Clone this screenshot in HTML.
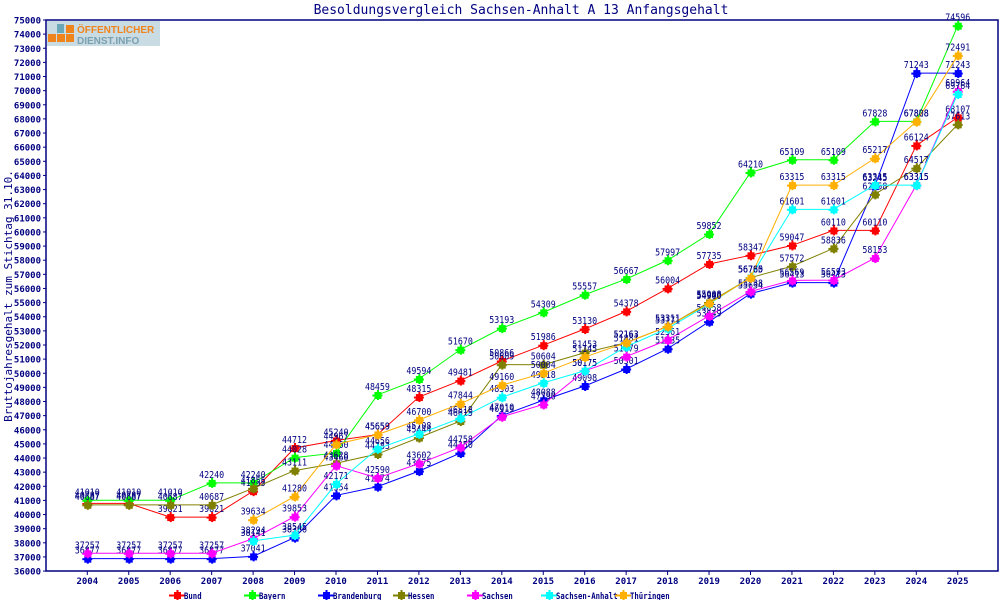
<!DOCTYPE html>
<html><head><meta charset="utf-8"><style>
body{margin:0;background:#fff;width:1000px;height:600px;overflow:hidden}
svg{display:block}
text{font-family:"DejaVu Sans Mono","Liberation Mono",monospace;fill:#000080}
</style></head><body>
<svg id="s" width="1000" height="600" xmlns="http://www.w3.org/2000/svg">
<rect x="0" y="0" width="1000" height="600" fill="#fff"/>
<text x="521" y="14" font-size="13" text-anchor="middle">Besoldungsvergleich Sachsen-Anhalt A 13 Anfangsgehalt</text>
<text transform="translate(12,296) rotate(-90)" font-size="11" text-anchor="middle">Bruttojahresgehalt zum Stichtag 31.10.</text>
<rect x="46" y="20" width="952" height="551" fill="none" stroke="#000080" stroke-width="1.5"/>
<g id="logo">
<rect x="47" y="21" width="113" height="25" fill="#c9dbe3"/>
<rect x="48" y="34" width="8" height="8" fill="#f0841c"/><rect x="57" y="34" width="8" height="8" fill="#f0841c"/><rect x="66" y="34" width="8" height="8" fill="#f0841c"/>
<rect x="66" y="25" width="8" height="8" fill="#f0841c"/><rect x="57" y="24" width="7" height="9" fill="#6aa8b8"/>
<text x="77" y="33" font-size="10" font-weight="bold" style="fill:#f0841c;font-family:'Liberation Sans',sans-serif">ÖFFENTLICHER</text>
<text x="77" y="44" font-size="10" font-weight="bold" style="fill:#7aa0b0;font-family:'Liberation Sans',sans-serif">DIENST.INFO</text>
</g>
<g id="g"></g>
</svg>
<script>
var g=document.getElementById('g'),ns='http://www.w3.org/2000/svg';
function el(t,a,txt){var e=document.createElementNS(ns,t);for(var k in a)e.setAttribute(k,a[k]);if(txt!=null)e.textContent=txt;g.appendChild(e);return e;}
function Y(v){return 20+(75000-v)/1000*14.13;}
function X(i){return 87.3+i*41.45;}
for(var v=36000;v<=75000;v+=1000){var y=Y(v);el('line',{x1:43,x2:46,y1:y,y2:y,stroke:'#000080'});el('text',{x:41,y:y+3.5,'font-size':9,'font-weight':'bold','text-anchor':'end'},v);}
for(var i=0;i<22;i++){el('line',{x1:X(i),x2:X(i),y1:571,y2:575,stroke:'#000080'});el('text',{x:X(i),y:584,'font-size':9,'font-weight':'bold','text-anchor':'middle'},2004+i);}
var S=[
['Bund','#ff0000',0,[40787,40787,39821,39821,41655,44712,45240,45659,48315,49481,50866,51986,53130,54378,56004,57735,58347,59047,60110,60110,66124,68107]],
['Bayern','#00ff00',0,[41010,41010,41010,42240,42240,44028,44360,48459,49594,51670,53193,54309,55557,56667,57997,59852,64210,65109,65109,67828,67828,74596]],
['Brandenburg','#0000ff',0,[36877,36877,36877,36877,37041,38366,41354,41974,43075,44350,47010,48088,49098,50301,51735,53649,55634,56413,56413,63245,71243,71243]],
['Hessen','#808000',0,[40687,40687,40687,40687,41855,43111,43628,44283,45444,46615,50609,50604,51453,52163,53311,55008,56765,57572,58836,62658,64517,67613]],
['Sachsen','#ff00ff',0,[37257,37257,37257,37257,38294,39853,43460,42590,43602,44758,46919,47790,50175,51179,52361,54058,55788,56569,56593,58153,63315,69964]],
['Sachsen-Anhalt','#00ffff',4,[38141,38545,42171,44656,45708,46818,48303,49318,50175,51881,53171,54900,56785,61601,61601,63315,63315,69764]],
['Thüringen','#ffb000',4,[39634,41280,44967,45659,46700,47844,49160,50004,51145,52163,53311,54940,56760,63315,63315,65217,67808,72491]]];
var lx=[177,252,326,401,475,549,623];
function mark(x,y,c){el('rect',{x:x-3,y:y-3,width:7,height:7,fill:c});el('line',{x1:x-5,x2:x+5,y1:y+.5,y2:y+.5,stroke:c,'stroke-width':2});el('line',{x1:x+.5,x2:x+.5,y1:y-5,y2:y+5,stroke:c,'stroke-width':2});}
S.forEach(function(s,k){var pts=s[3].map(function(v,j){return [X(j+s[2]),Y(v)];});
el('polyline',{points:pts.map(function(p){return p.join(',')}).join(' '),fill:'none',stroke:s[1],'stroke-width':1});
pts.forEach(function(p,j){mark(p[0],p[1],s[1]);el('text',{x:p[0],y:p[1]-5,'font-size':10,'text-anchor':'middle',textLength:25,lengthAdjust:'spacingAndGlyphs'},s[3][j]);});
el('line',{x1:lx[k]-8,x2:lx[k]+8,y1:595.5,y2:595.5,stroke:s[1],'stroke-width':2});mark(lx[k],595,s[1]);
el('text',{x:lx[k]+7,y:599,'font-size':9,'font-weight':'bold',textLength:(s[0].length*4.4).toFixed(1),lengthAdjust:'spacingAndGlyphs'},s[0]);});
</script>
</body></html>
